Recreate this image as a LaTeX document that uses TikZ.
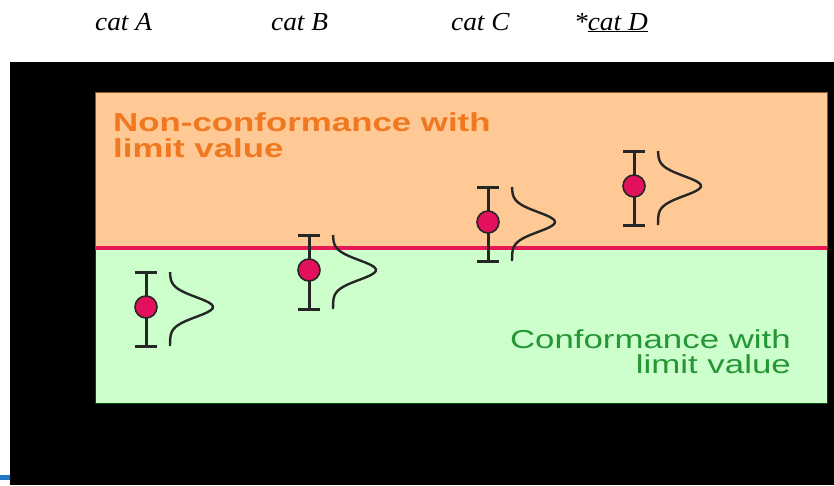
\documentclass[tikz,border=0pt]{standalone}
\usepackage{fontspec}
\setmainfont{Liberation Serif}
\newfontfamily\wideserif[FakeStretch=1.05]{Liberation Serif}
\newfontfamily\widesans[FakeStretch=1.34]{Liberation Sans}
\definecolor{peach}{HTML}{FFC995}
\definecolor{mint}{HTML}{CCFFCC}
\definecolor{limitred}{HTML}{EA1757}
\definecolor{dotred}{HTML}{E3105C}
\definecolor{ortext}{HTML}{F07820}
\definecolor{grtext}{HTML}{259633}
\definecolor{bluebar}{HTML}{1F77C8}
\tikzset{
  cattext/.style={anchor=base west, inner sep=0pt, font=\wideserif\itshape\fontsize{26}{30}\selectfont},
  ortextstyle/.style={anchor=base west, inner sep=0pt, text=ortext, font=\widesans\bfseries\fontsize{26}{30}\selectfont},
  grtextstyle/.style={anchor=base east, inner sep=0pt, text=grtext, font=\widesans\fontsize{26}{30}\selectfont},
  barline/.style={line width=3pt, draw=black!85},
  gaussline/.style={line width=2.4pt, draw=black!85},
  dotstyle/.style={circle, fill=dotred, draw=black!85, line width=1.6pt, minimum size=22pt, inner sep=0pt},
}
\newcommand\errgroup[3]{%
  % #1 name, #2 bar x, #3 centre y
  \coordinate (#1top) at (#2,#3-37);
  \coordinate (#1bot) at (#2,#3+37);
  \draw[barline] (#1top) -- (#1bot);
  \draw[barline] ([xshift=-11pt]#1top) -- ([xshift=11pt]#1top);
  \draw[barline] ([xshift=-11pt]#1bot) -- ([xshift=11pt]#1bot);
  \node[dotstyle] (#1dot) at (#2,#3-2) {};
  \draw[gaussline, smooth, samples=40, domain=-37:37, variable=\t]
    plot ({#2+24+43*exp(-((\t+2)/14)^2)}, {#3+\t});
}
\begin{document}
\begin{tikzpicture}[x=1pt,y=-1pt]
\useasboundingbox (0,0) rectangle (834,485);
\fill[white] (0,0) rectangle (834,485);
% black panel
\fill[black] (10,62) rectangle (834,485);
\fill[bluebar] (0,475) rectangle (10,480);
% zones
\fill[peach] (95,92) rectangle (827,248);
\fill[mint] (95,248) rectangle (827,403);
\draw[line width=0.8pt, draw=brown!70!black] (95,248) -- (95,92) -- (827,92) -- (827,248);
\draw[line width=0.8pt, draw=green!30!black] (95,248) -- (95,403) -- (827,403) -- (827,248);
\coordinate (limL) at (95,248);
\coordinate (limR) at (827,248);
\draw[line width=3.2pt, draw=limitred] (limL) -- (limR);
% category labels
\node[cattext] (catA) at (95,30) {cat A};
\node[cattext] (catB) at (271,30) {cat B};
\node[cattext] (catC) at (451,30) {cat C};
\node[cattext] (catD) at (574,30) {*\underline{cat D}};
% zone texts
\node[ortextstyle] (nc1) at (113,131) {Non-conformance with};
\node[ortextstyle] (nc2) at (113,157) {limit value};
\node[grtextstyle] (c1) at (791,348) {Conformance with};
\node[grtextstyle] (c2) at (791,373) {limit value};
% error groups
\errgroup{gA}{146}{309}
\errgroup{gB}{309}{272}
\errgroup{gC}{488}{224}
\errgroup{gD}{634}{188}
\end{tikzpicture}
\end{document}
